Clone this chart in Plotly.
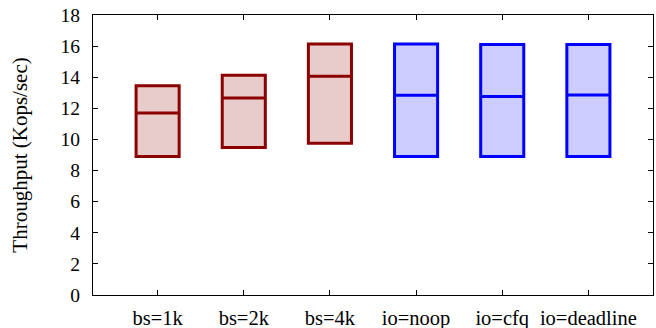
import plotly.graph_objects as go

categories = ["bs=1k", "bs=2k", "bs=4k", "io=noop", "io=cfq", "io=deadline"]
low = [8.9, 9.48, 9.76, 8.9, 8.9, 8.9]
median = [11.7, 12.66, 14.07, 12.84, 12.76, 12.85]
high = [13.45, 14.12, 16.14, 16.14, 16.1, 16.1]

red_idx = [0, 1, 2]
blue_idx = [3, 4, 5]

fig = go.Figure()

def add_boxes(idx, line_color, fill_color):
    fig.add_trace(go.Box(
        x=[categories[i] for i in idx],
        q1=[low[i] for i in idx],
        median=[median[i] for i in idx],
        q3=[high[i] for i in idx],
        lowerfence=[low[i] for i in idx],
        upperfence=[high[i] for i in idx],
        width=0.5,
        whiskerwidth=0,
        line=dict(color=line_color, width=3),
        fillcolor=fill_color,
        hoverinfo="skip",
        showlegend=False,
    ))

add_boxes(red_idx, "#8b0000", "rgb(232,204,204)")
add_boxes(blue_idx, "#0000ff", "rgb(204,204,255)")

font_family = "Liberation Serif, Times New Roman, serif"

fig.update_layout(
    width=656, height=328,
    margin=dict(l=93, r=3, t=15, b=33),
    plot_bgcolor="white", paper_bgcolor="white",
    font=dict(family=font_family, size=19, color="black"),
    boxmode="overlay",
)
fig.update_xaxes(
    type="category",
    categoryorder="array", categoryarray=categories,
    range=[-0.75, 5.75],
    automargin=False,
    showline=True, linecolor="black", linewidth=1, mirror="ticks",
    ticks="inside", ticklen=5, tickcolor="black", tickwidth=1,
    showgrid=False, zeroline=False,
    tickfont=dict(family=font_family, size=20.5),
    ticklabelstandoff=4,
)
fig.update_yaxes(
    range=[0, 18], dtick=2, tick0=0,
    automargin=False,
    showline=True, linecolor="black", linewidth=1, mirror="ticks",
    ticks="inside", ticklen=5, tickcolor="black", tickwidth=1,
    showgrid=False, zeroline=False,
    tickfont=dict(family=font_family, size=19.5),
    ticklabelstandoff=8,
    title=dict(text="Throughput (Kops/sec)", font=dict(family=font_family, size=21), standoff=27),
)

fig.write_html(
    "out.html",
    config={"displayModeBar": False},
    post_script="document.body.style.margin='0';document.body.style.overflow='hidden';",
)
